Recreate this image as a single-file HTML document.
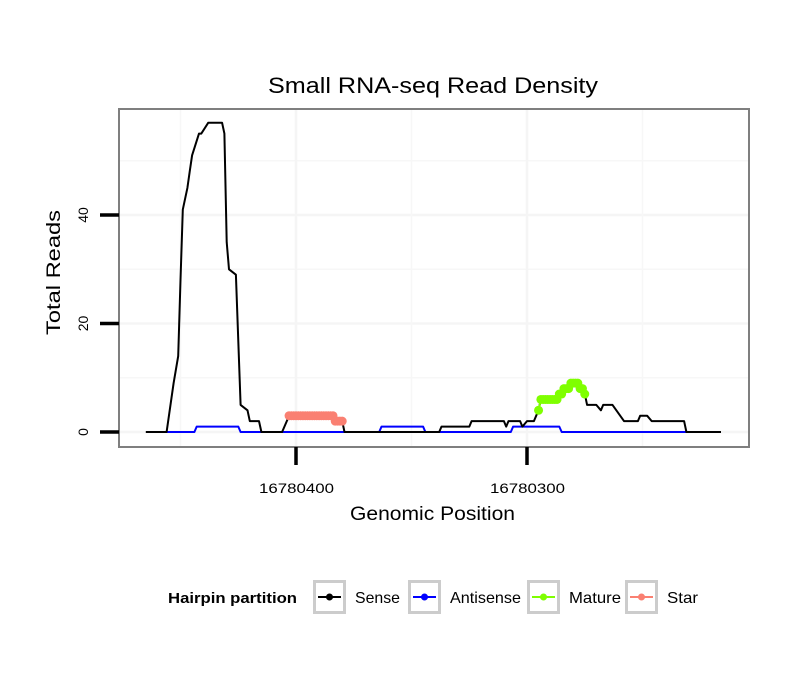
<!DOCTYPE html>
<html><head><meta charset="utf-8"><style>
body{margin:0;background:#fff;font-family:"Liberation Sans",sans-serif;}
svg text{font-family:"Liberation Sans",sans-serif;}
</style></head><body>
<svg id="c" width="810" height="690" xmlns="http://www.w3.org/2000/svg">
<rect width="810" height="690" fill="#fff"/>
<text x="268" y="93" font-size="22" textLength="330" lengthAdjust="spacingAndGlyphs">Small RNA-seq Read Density</text>
<g id="grid"></g>
<g id="series"></g>
<rect x="119" y="109" width="630" height="338" fill="none" stroke="#7f7f7f" stroke-width="2"/>
<g id="axes"></g>
<text x="350" y="520" font-size="19" textLength="165" lengthAdjust="spacingAndGlyphs">Genomic Position</text>
<text transform="translate(60,335) rotate(-90)" font-size="19" textLength="125" lengthAdjust="spacingAndGlyphs">Total Reads</text>
<g id="legend">
<text x="168" y="603" font-size="15" font-weight="bold" textLength="129" lengthAdjust="spacingAndGlyphs">Hairpin partition</text>
</g>
</svg>
<script>
const senseData=[[16780465,0],[16780456,0],[16780453,9],[16780451,14],[16780450,28],[16780449,41],[16780447,45],[16780446,48],[16780445,51],[16780442,55],[16780441,55],[16780438,57],[16780432,57],[16780431,55],[16780430,35],[16780429,30],[16780426,29],[16780424,5],[16780421,4],[16780420,2],[16780416,2],[16780415,0],[16780406,0],[16780404,2],[16780403,3],[16780384,3],[16780383,2],[16780380,2],[16780379,0],[16780338,0],[16780337,1],[16780325,1],[16780324,2],[16780310,2],[16780309,1],[16780308,2],[16780303,2],[16780302,1],[16780300,2],[16780297,2],[16780295,4],[16780294,6],[16780287,6],[16780285,7],[16780284,8],[16780282,8],[16780280,9],[16780278,9],[16780277,8],[16780275,7],[16780274,5],[16780270,5],[16780268,4],[16780267,5],[16780263,5],[16780258,2],[16780252,2],[16780251,3],[16780248,3],[16780246,2],[16780232,2],[16780231,0],[16780216,0]];
const antisenseData=[[16780456,0],[16780444,0],[16780443,1],[16780425,1],[16780424,0],[16780364,0],[16780363,1],[16780345,1],[16780344,0],[16780307,0],[16780306,1],[16780286,1],[16780285,0],[16780231,0]];
const matureData=[[16780295,4],[16780294,6],[16780293,6],[16780292,6],[16780291,6],[16780290,6],[16780289,6],[16780288,6],[16780287,6],[16780286,7],[16780285,7],[16780284,8],[16780283,8],[16780282,8],[16780281,9],[16780280,9],[16780279,9],[16780278,9],[16780277,8],[16780276,8],[16780275,7]];
const starData=[[16780403,3],[16780402,3],[16780401,3],[16780400,3],[16780399,3],[16780398,3],[16780397,3],[16780396,3],[16780395,3],[16780394,3],[16780393,3],[16780392,3],[16780391,3],[16780390,3],[16780389,3],[16780388,3],[16780387,3],[16780386,3],[16780385,3],[16780384,3],[16780383,2],[16780382,2],[16780381,2],[16780380,2]];
const xTicks=[16780400,16780300];
const yTicks=[0,20,40];
const legendLabels=["Sense","Antisense","Mature","Star"];
const legendColors=["#000","#0000ff","#7fff00","#fa8072"];

const NS="http://www.w3.org/2000/svg";
function X(p){return 296+(16780400-p)*2.31;}
function Y(v){return 432-v*5.425;}
function mk(tag,attrs,parent){const e=document.createElementNS(NS,tag);for(const k in attrs)e.setAttribute(k,attrs[k]);parent.appendChild(e);return e;}
const grid=document.getElementById('grid'),series=document.getElementById('series'),axes=document.getElementById('axes'),legend=document.getElementById('legend');
[10,30,50].forEach(v=>{const l=mk('line',{x1:119,x2:749,y1:Y(v),y2:Y(v),stroke:'#f7f7f7','stroke-width':1.5},grid);});
yTicks.forEach(v=>{const l=mk('line',{x1:119,x2:749,y1:Y(v),y2:Y(v),stroke:'#f5f5f5','stroke-width':2.5},grid);});
[16780450,16780350,16780250].forEach(p=>{const l=mk('line',{x1:X(p),x2:X(p),y1:109,y2:447,stroke:'#f7f7f7','stroke-width':1.5},grid);});
xTicks.forEach(p=>{const l=mk('line',{x1:X(p),x2:X(p),y1:109,y2:447,stroke:'#f5f5f5','stroke-width':2.5},grid);});
function line(data,color,name){const d=data.map((q,i)=>(i?'L':'M')+X(q[0]).toFixed(1)+','+Y(q[1]).toFixed(1)).join('');const p=mk('path',{d:d,fill:'none',stroke:color,'stroke-width':2,'stroke-linejoin':'round'},series);}
line(antisenseData,'#0000ff','antisense-line');
line(senseData,'#000','sense-line');
function pts(data,color,name){line(data,color,name+'-line');data.forEach(q=>{const c=mk('circle',{cx:X(q[0]),cy:Y(q[1]),r:4.5,fill:color},series);});}
pts(starData,'#fa8072','star');
pts(matureData,'#7fff00','mature');
yTicks.forEach(v=>{const t=mk('line',{x1:100,x2:119,y1:Y(v),y2:Y(v),stroke:'#000','stroke-width':3.5},axes);
const tx=mk('text',{transform:`translate(88,${Y(v)}) rotate(-90)`,'font-size':14,'text-anchor':'middle'},axes);tx.textContent=v;});
xTicks.forEach(p=>{const t=mk('line',{x1:X(p),x2:X(p),y1:447,y2:465,stroke:'#000','stroke-width':3.5},axes);
const tx=mk('text',{x:X(p)-37,y:493,'font-size':14,textLength:75,lengthAdjust:'spacingAndGlyphs'},axes);tx.textContent=p;});
const boxX=[313,408,527,625];
const textLen=[45,71,52,31];
legendLabels.forEach((lab,i)=>{const bx=boxX[i];
const r=mk('rect',{x:bx+1.5,y:581.5,width:30,height:31,fill:'#fff',stroke:'#cccccc','stroke-width':3},legend);
const l=mk('line',{x1:bx+5,x2:bx+28,y1:597,y2:597,stroke:legendColors[i],'stroke-width':2},legend);
const c=mk('circle',{cx:bx+16.5,cy:597,r:3.5,fill:legendColors[i]},legend);
const t=mk('text',{x:bx+42,y:603,'font-size':16,textLength:textLen[i],lengthAdjust:'spacingAndGlyphs'},legend);t.textContent=lab;});
</script>
</body></html>
